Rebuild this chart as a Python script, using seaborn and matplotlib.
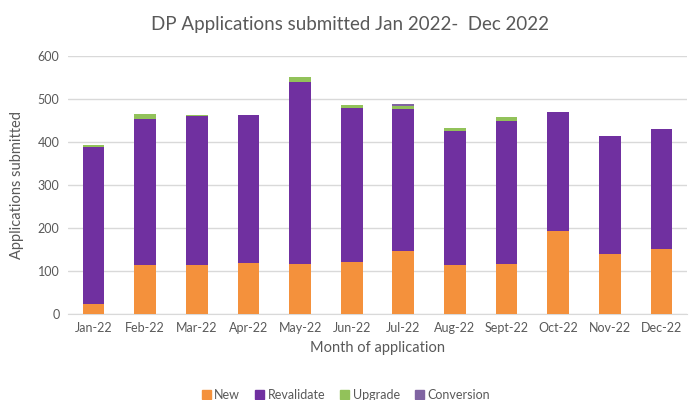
import numpy as np
import pandas as pd
import seaborn as sns
import matplotlib.pyplot as plt

# values
months = ["Jan-22", "Feb-22", "Mar-22", "Apr-22", "May-22", "Jun-22",
          "Jul-22", "Aug-22", "Sept-22", "Oct-22", "Nov-22", "Dec-22"]
new = [23, 115, 113, 119, 116, 120, 146, 114, 117, 193, 139, 151]
revalidate = [366, 338, 347, 343, 424, 359, 330, 312, 332, 276, 276, 279]
upgrade = [4, 11, 3, 0, 11, 8, 7, 6, 10, 0, 0, 0]
conversion = [0, 0, 0, 0, 0, 0, 5, 0, 0, 0, 0, 0]

series = ["New", "Revalidate", "Upgrade", "Conversion"]
colors = {"New": "#F4913C", "Revalidate": "#7030A0", "Upgrade": "#92C25A", "Conversion": "#8064A2"}

df = pd.DataFrame({"month": months, "New": new, "Revalidate": revalidate,
                   "Upgrade": upgrade, "Conversion": conversion})
# cumulative heights, drawn from the top down so each layer covers the one above it
cum = df[series].cumsum(axis=1)

sns.set_style("white")
plt.rcParams["font.family"] = ["Lato", "DejaVu Sans"]
grey = "#595959"

fig = plt.figure(figsize=(6.92, 4.0), dpi=100)
ax = fig.add_axes([0.098, 0.215, 0.895, 0.645])

for s in reversed(series):
    sns.barplot(ax=ax, x=df["month"], y=cum[s], color=colors[s], width=0.42,
                saturation=1, linewidth=0, zorder=3)

ax.set_ylim(0, 600)
ax.set_yticks(np.arange(0, 601, 100))
ax.yaxis.grid(True, color="#d9d9d9", linewidth=1, zorder=0)
ax.set_axisbelow(True)
for sp in ["top", "right", "left"]:
    ax.spines[sp].set_visible(False)
ax.spines["bottom"].set_color("#d9d9d9")
ax.tick_params(axis="both", length=0, labelsize=9, colors=grey, pad=6)
ax.set_xlabel("Month of application", fontsize=10.5, color=grey, labelpad=5)
ax.set_ylabel("Applications submitted", fontsize=10.5, color=grey, labelpad=10)
fig.suptitle("DP Applications submitted Jan 2022-  Dec 2022", fontsize=13.5,
             color=grey, x=0.506, y=0.96)

handles = [plt.Rectangle((0, 0), 1, 1, color=colors[s]) for s in series]
fig.legend(handles, series, loc="lower center", bbox_to_anchor=(0.5, -0.03), ncol=4,
           frameon=False, fontsize=9, labelcolor=grey, handlelength=0.7,
           handleheight=0.7, handletextpad=0.3, columnspacing=1.2)

plt.savefig("out.png", dpi=100)
